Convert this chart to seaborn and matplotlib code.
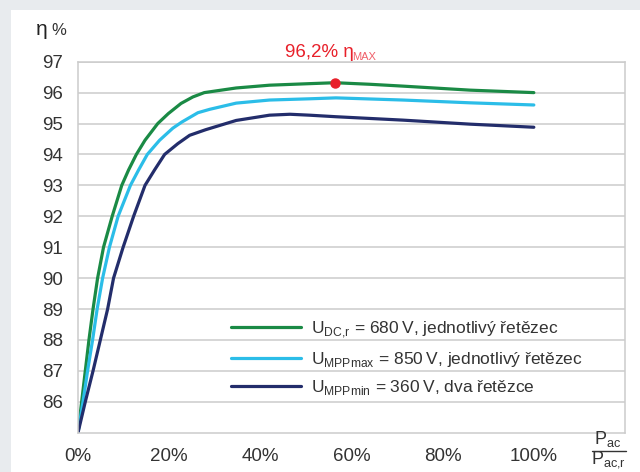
import matplotlib
matplotlib.use("Agg")
import matplotlib.pyplot as plt
import seaborn as sns
import pandas as pd
from matplotlib.patches import Rectangle
from matplotlib.lines import Line2D

# ---- data ----
x_dc = [0, 0.8, 1.6, 2.4, 3.3, 4.3, 5.6, 7.5, 9.6, 11.1, 12.8, 14.7, 17.5, 19.8, 22.6, 25.2, 27.7,
        34.7, 42, 50.8, 56.4, 64, 71.3, 86, 100]
y_dc = [85, 86, 87, 88, 89, 90, 91, 92, 93, 93.5, 94, 94.46, 95, 95.32, 95.65, 95.86, 96.0,
        96.15, 96.24, 96.29, 96.32, 96.27, 96.21, 96.08, 96.0]

x_max = [0, 1.1, 2.1, 3.2, 4.2, 5.4, 6.9, 8.8, 11.5, 13.3, 15.2, 17.9, 20.8, 22.8, 26.3, 28.9,
         34.7, 42, 50.8, 56.6, 71.3, 86, 100]
y_max = [85, 86, 87, 88, 89, 90, 91, 92, 93, 93.5, 94, 94.46, 94.85, 95.05, 95.35, 95.46,
         95.66, 95.76, 95.8, 95.83, 95.76, 95.67, 95.6]

x_min = [0, 1.6, 3.3, 4.9, 6.5, 7.8, 9.9, 12.2, 14.7, 16.8, 19.0, 21.9, 24.5, 28.0, 34.7, 42,
         46.5, 50.8, 56.6, 71.3, 86, 100]
y_min = [85, 86, 87, 88, 89, 90, 91, 92, 93, 93.5, 94, 94.35, 94.62, 94.8, 95.1, 95.27,
         95.3, 95.27, 95.22, 95.11, 94.98, 94.88]

series_labels = [
    "U$_{\\mathregular{DC{,}r}}$ = 680\u2009V, jednotlivý řetězec",
    "U$_{\\mathregular{MPPmax}}$ = 850\u2009V, jednotlivý řetězec",
    "U$_{\\mathregular{MPPmin}}$ = 360\u2009V, dva řetězce",
]
colors = ["#1a8a45", "#2bbde8", "#232d6b"]

peak_x = [56.4]
peak_y = [96.32]
peak_label = "96,2% η"

y_ticks = [86, 87, 88, 89, 90, 91, 92, 93, 94, 95, 96, 97]
x_ticks = [0, 20, 40, 60, 80, 100]
x_ticklabels = ["0%", "20%", "40%", "60%", "80%", "100%"]

# ---- build frame ----
frames = []
for xs, ys, lab in zip([x_dc, x_max, x_min], [y_dc, y_max, y_min], series_labels):
    frames.append(pd.DataFrame({"x": xs, "y": ys, "series": lab}))
df = pd.concat(frames, ignore_index=True)

sns.set_theme(style="white")
plt.rcParams["font.family"] = ["Liberation Sans", "DejaVu Sans"]
plt.rcParams["mathtext.fontset"] = "custom"
plt.rcParams["mathtext.rm"] = "Liberation Sans"

fig = plt.figure(figsize=(6.4, 4.72), dpi=100)
fig.patch.set_facecolor("#e8ebee")
fig.patches.append(Rectangle((11 / 640, 0), 1, 462 / 472, transform=fig.transFigure,
                             facecolor="white", edgecolor="none", zorder=-10))

ax = fig.add_axes([78 / 640, (472 - 432.7) / 472, (625 - 78) / 640, (432.7 - 61.7) / 472])
ax.set_facecolor("white")

sns.lineplot(data=df, x="x", y="y", hue="series", palette=colors, sort=False,
             linewidth=2.3, ax=ax, legend=False, estimator=None)
for ln in ax.lines:
    ln.set_solid_joinstyle("round")
ax.plot(peak_x, peak_y, "o", color="#e8202a", markersize=6.5, zorder=5)

ax.set_xlim(0, 120)
ax.set_ylim(85, 97)
ax.set_yticks(y_ticks)
ax.set_xticks(x_ticks)
ax.set_xticklabels(x_ticklabels)
ax.set_xlabel("")
ax.set_ylabel("")
ax.grid(axis="y", color="#cccccc", linewidth=1.1)
ax.grid(axis="x", visible=False)
for s in ax.spines.values():
    s.set_color("#cccccc")
    s.set_linewidth(1.1)
ax.tick_params(axis="y", length=0, pad=11, labelsize=13.5, labelcolor="#333333")
ax.tick_params(axis="x", length=3, width=1, color="#cccccc", pad=8, labelsize=13.5,
               labelcolor="#333333", direction="out")

handles = [Line2D([], [], color=c, lw=2.3) for c in colors]
leg = ax.legend(handles, series_labels, loc="upper left", bbox_to_anchor=(0.2675, 0.324),
                frameon=False, fontsize=12.5, handlelength=4.0, handletextpad=0.6,
                labelspacing=0.55, borderaxespad=0)
for t in leg.get_texts():
    t.set_color("#333333")

# peak label
fig.text(285 / 640, (472 - 57) / 472, peak_label, color="#e8202a", fontsize=13.5,
         ha="left", va="baseline")
fig.text(352 / 640, (472 - 60) / 472, "MAX", color="#f0606a", fontsize=8,
         ha="left", va="baseline")

# y label
fig.text(36 / 640, (472 - 35) / 472, "η", color="#222222", fontsize=15, ha="left", va="baseline")
fig.text(51 / 640, (472 - 35) / 472, "%", color="#333333", fontsize=12, ha="left", va="baseline")

# x label as fraction
fig.text(608 / 640, (472 - 444) / 472, r"P$_{\mathregular{ac}}$", color="#333333", fontsize=13,
         ha="center", va="baseline")
fig.add_artist(Line2D([592 / 640, 626 / 640], [(472 - 450.5) / 472] * 2, color="#333333", lw=1.0,
                      transform=fig.transFigure))
fig.text(609 / 640, (472 - 464) / 472, r"P$_{\mathregular{ac{,}r}}$", color="#333333", fontsize=13,
         ha="center", va="baseline")

fig.savefig("out.png", dpi=100, facecolor=fig.get_facecolor())
